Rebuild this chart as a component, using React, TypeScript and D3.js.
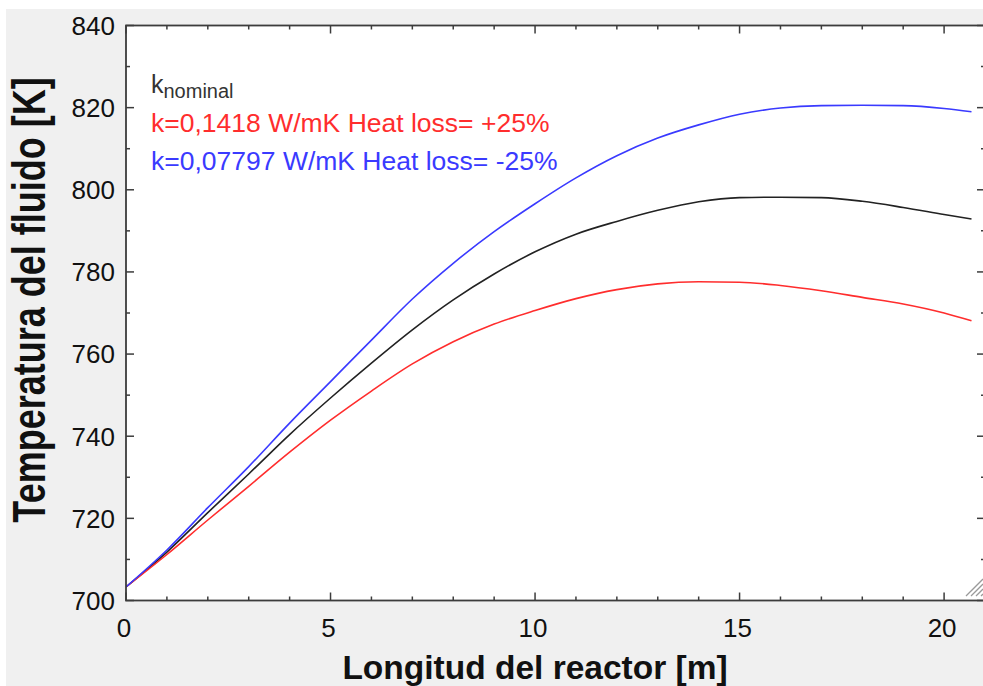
import React from "react";
import * as d3 from "d3";

const xValues = [0, 1, 2, 3, 4, 5, 6, 7, 8, 9, 10, 11, 12, 13, 14, 15, 16, 17, 18, 19, 20, 20.67];
const nominal = [703.3, 711.8, 721.4, 730.8, 740.4, 749.3, 757.8, 765.9, 773.2, 779.5, 784.9, 789.2, 792.3, 795.0, 797.1, 798.1, 798.2, 798.1, 797.2, 795.7, 794.0, 792.9];
const lossPlus25 = [703.3, 711.2, 719.6, 727.8, 736.1, 743.9, 751.0, 757.6, 763.0, 767.3, 770.6, 773.5, 775.7, 777.1, 777.6, 777.5, 776.7, 775.4, 773.8, 772.2, 770.0, 768.1];
const lossMinus25 = [703.3, 712.3, 722.6, 732.6, 743.2, 753.3, 763.4, 773.4, 782.1, 789.8, 796.6, 802.9, 808.3, 812.6, 815.8, 818.4, 819.9, 820.5, 820.6, 820.5, 819.8, 819.0];

const xTicks = [0, 5, 10, 15, 20];
const yTicks = [700, 720, 740, 760, 780, 800, 820, 840];

const seriesColors = ["#222222", "#ff2d2d", "#3a3aff"];
const legendMain = "k";
const legendSub = "nominal";
const legendRed = "k=0,1418 W/mK Heat loss= +25%";
const legendBlue = "k=0,07797 W/mK Heat loss= -25%";
const xTitle = "Longitud del reactor [m]";
const yTitle = "Temperatura del fluido [K]";

export default function App() {
  const W = 983;
  const H = 686;
  const left = 126;
  const right = 985;
  const top = 25.5;
  const bottom = 600.5;
  const x = d3.scaleLinear().domain([0, 21]).range([left, right]);
  const y = d3.scaleLinear().domain([700, 840]).range([bottom, top]);
  const line = d3
    .line<number>()
    .x((_, i) => x(xValues[i]))
    .y((d) => y(d))
    .curve(d3.curveMonotoneX);

  const xMinor = d3.range(0, 22, 1);
  const yMinor = d3.range(700, 841, 10);
  const frame = "#3c3c3c";
  const font = "'Liberation Sans', Arial, sans-serif";

  return (
    <svg
      width={W}
      height={H}
      style={{ position: "absolute", left: 0, top: 0, display: "block" }}
    >
      <rect x={0} y={0} width={W} height={H} fill="#ffffff" />
      <rect x={6} y={9} width={W - 6} height={H - 9} fill="#f0f0f0" />
      <rect x={left} y={top} width={right - left} height={bottom - top} fill="#ffffff" />
      <defs>
        <clipPath id="plotclip">
          <rect x={left} y={top} width={right - left} height={bottom - top} />
        </clipPath>
      </defs>

      <g clipPath="url(#plotclip)">
        {[nominal, lossPlus25, lossMinus25].map((s, i) => (
          <path
            key={i}
            d={line(s) || ""}
            fill="none"
            stroke={seriesColors[i]}
            strokeWidth={1.6}
          />
        ))}
      </g>

      {/* ticks */}
      <g stroke={frame} strokeWidth={1.5}>
        {xMinor.map((v) => {
          const major = v % 5 === 0;
          const len = major ? 8 : 4;
          return (
            <g key={"xt" + v}>
              <line x1={x(v)} x2={x(v)} y1={bottom} y2={bottom - len} />
              <line x1={x(v)} x2={x(v)} y1={top} y2={top + len} />
            </g>
          );
        })}
        {yMinor.map((v) => {
          const major = v % 20 === 0;
          const len = major ? 8 : 4;
          return (
            <g key={"yt" + v}>
              <line x1={left} x2={left + len} y1={y(v)} y2={y(v)} />
              <line x1={right} x2={right - len} y1={y(v)} y2={y(v)} />
            </g>
          );
        })}
      </g>
      <rect
        x={left}
        y={top}
        width={right - left}
        height={bottom - top}
        fill="none"
        stroke={frame}
        strokeWidth={1.8}
      />

      {/* tick labels */}
      <g fontFamily={font} fontSize={26} fill="#111">
        {yTicks.map((v) => (
          <text key={"yl" + v} x={115} y={y(v)} dy="0.36em" textAnchor="end">
            {v}
          </text>
        ))}
        {xTicks.map((v) => (
          <text key={"xl" + v} x={x(v) - 2} y={637} textAnchor="middle">
            {v}
          </text>
        ))}
      </g>

      {/* axis titles */}
      <text
        x={535}
        y={679}
        textAnchor="middle"
        fontFamily={font}
        fontWeight="bold"
        fontSize={33.5}
        fill="#111"
      >
        {xTitle}
      </text>
      <text
        transform="translate(45,300) rotate(-90) scale(1,1.3)"
        textAnchor="middle"
        fontFamily={font}
        fontWeight="bold"
        fontSize={36}
        fill="#111"
      >
        {yTitle}
      </text>

      {/* legend */}
      <g fontFamily={font}>
        <text x={151} y={93} fontSize={25} fill="#333">
          {legendMain}
          <tspan fontSize={20} dy={5}>
            {legendSub}
          </tspan>
        </text>
        <text x={151} y={131.5} fontSize={26.5} fill={seriesColors[1]}>
          {legendRed}
        </text>
        <text x={151} y={170} fontSize={26.5} fill={seriesColors[2]}>
          {legendBlue}
        </text>
      </g>

      {/* resize grip */}
      <g stroke="#9a9a9a" strokeWidth={1.3}>
        {[0, 5, 10, 15].map((o) => (
          <line key={o} x1={966 + o} y1={596} x2={983} y2={579 + o} />
        ))}
      </g>
    </svg>
  );
}
